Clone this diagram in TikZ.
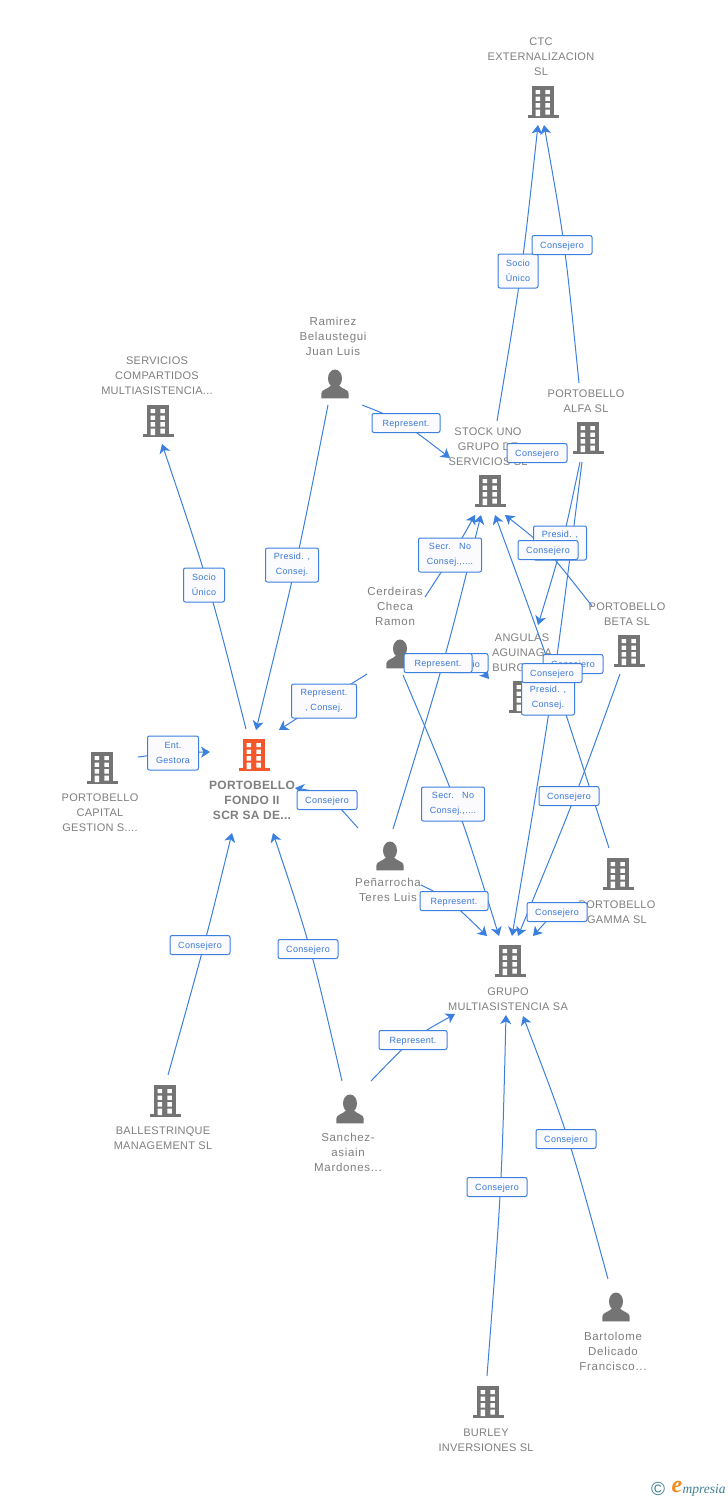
\documentclass[tikz,border=0pt]{standalone}
\usepackage{fontspec}
\usetikzlibrary{calc,arrows.meta}
\setmainfont{Liberation Sans}
\newfontfamily\entfont{Liberation Sans}[LetterSpace=2.5]
\newfontfamily\persfont{Liberation Sans}[LetterSpace=6]
\newfontfamily\boxfont{Liberation Sans}[LetterSpace=3.5]
\newfontfamily\logofont{Liberation Serif}
\definecolor{blueline}{HTML}{3C80DF}
\definecolor{bluetext}{HTML}{3A78D8}
\definecolor{iconG}{HTML}{747474}
\definecolor{textG}{HTML}{7F7F7F}
\definecolor{iconR}{HTML}{F4572B}
\definecolor{logoT}{HTML}{3E8095}
\definecolor{logoO}{HTML}{F28A1E}
\definecolor{boxF}{HTML}{FBFBFD}
\pgfdeclarelayer{lab}\pgfdeclarelayer{edg}
\pgfsetlayers{lab,edg,main}
\tikzset{
 x=1pt,y=-1pt,
 entlabel/.style={inner sep=0pt,align=center,text=textG,font={\entfont\fontsize{11}{15}\selectfont}},
 perslabel/.style={inner sep=0pt,align=center,text=textG,font={\persfont\fontsize{11.5}{15}\selectfont}},
 mainlabel/.style={inner sep=0pt,align=center,text=textG,font={\entfont\bfseries\fontsize{12}{15}\selectfont}},
 lbox/.style={draw=blueline,line width=1pt,fill=boxF,rounded corners=2pt,inner sep=0pt,align=center,text=bluetext,
   font={\boxfont\fontsize{9}{15}\selectfont},minimum width=#1,
   execute at begin node={\rule{0pt}{8.6pt}}},
 lbox/.default=60pt,
 oneline/.style={minimum height=19pt},
 twoline/.style={minimum height=34pt},
 conn/.style={draw=blueline,line width=1pt,-{Stealth[length=9pt,width=11pt,inset=2.5pt]}},
 pics/bldg/.style={code={
  \fill[#1] (-11,-16) rectangle (11,14);
  \fill[#1] (-15.5,13.2) rectangle (15.5,16);
  \fill[white] (-7.3,-12) rectangle (-3,-8) (2.3,-12) rectangle (6.8,-8)
    (-7.3,-5.5) rectangle (-3,-1.2) (2.3,-5.5) rectangle (6.8,-1.2)
    (-7.3,1.2) rectangle (-3,5.5) (2.3,1.2) rectangle (6.8,5.5)
    (-7.3,7.5) rectangle (-3,14) (2.3,7.5) rectangle (6.8,12.5);
 }},
 pics/pers/.style={code={
  \fill[#1] (0,-5.5) ellipse [x radius=7,y radius=9];
  \fill[#1] (-13.7,14.3) -- (-13.7,9.5) .. controls (-13.7,5.5) and (-7,5) .. (-4,1.5) -- (4,1.5)
     .. controls (7,5) and (13.7,5.5) .. (13.7,9.5) -- (13.7,14.3) -- cycle;
 }}
}
\newcommand{\cnx}[5]{%
 \coordinate (#1-s) at (#2);
 \coordinate (#1-t) at (#4);
 \coordinate (#1-m) at ($(#3)+(#5)$);
 \begin{pgfonlayer}{edg}
 \draw[conn] (#1-s) .. controls ($1.3333*(#1-m)-0.16667*(#1-s)-0.16667*(#1-t)$) .. (#1-t);
 \end{pgfonlayer}}
\begin{document}
\begin{tikzpicture}
\useasboundingbox (0,0) rectangle (728,1500);
\begin{pgfonlayer}{lab}
\fill[white] (0,0) rectangle (728,1500);
\node[entlabel] (lctc) at (541,57) {CTC\\EXTERNALIZACION\\SL};
\node[entlabel] (lserv) at (157,376) {SERVICIOS\\COMPARTIDOS\\MULTIASISTENCIA...};
\node[perslabel] (lram) at (333,336) {Ramirez\\Belaustegui\\Juan Luis};
\node[entlabel] (lalfa) at (586,401) {PORTOBELLO\\ALFA SL};
\node[entlabel] (lstock) at (488,447) {STOCK UNO\\GRUPO DE\\SERVICIOS SL};
\node[entlabel] (lbeta) at (627,614) {PORTOBELLO\\BETA SL};
\node[entlabel] (lang) at (522,653) {ANGULAS\\AGUINAGA\\BURGOS...};
\node[perslabel] (lcer) at (395,606) {Cerdeiras\\Checa\\Ramon};
\node[mainlabel] (lfon) at (252,800) {PORTOBELLO\\FONDO II\\SCR SA DE...};
\node[entlabel] (lcap) at (100,813) {PORTOBELLO\\CAPITAL\\GESTION S....};
\node[perslabel] (lpen) at (388,890) {Peñarrocha\\Teres Luis};
\node[entlabel] (lgam) at (617,912) {PORTOBELLO\\GAMMA SL};
\node[entlabel] (lgru) at (508,999) {GRUPO\\MULTIASISTENCIA SA};
\node[entlabel] (lbal) at (163,1138) {BALLESTRINQUE\\MANAGEMENT SL};
\node[perslabel] (lsan) at (348,1152) {Sanchez-\\asiain\\Mardones...};
\node[entlabel] (lbur) at (486,1440) {BURLEY\\INVERSIONES SL};
\node[perslabel] (lbar) at (613,1351) {Bartolome\\Delicado\\Francisco...};
\end{pgfonlayer}
% icons
\pic at (543,102) {bldg=iconG};
\pic at (158,421) {bldg=iconG};
\pic at (335,384) {pers=iconG};
\pic at (588,438) {bldg=iconG};
\pic at (490,491) {bldg=iconG};
\pic at (629,651) {bldg=iconG};
\pic at (524,697) {bldg=iconG};
\pic at (400,654) {pers=iconG};
\pic at (254,755) {bldg=iconR};
\pic at (102,768) {bldg=iconG};
\pic at (390,856) {pers=iconG};
\pic at (618,874) {bldg=iconG};
\pic at (510,961) {bldg=iconG};
\pic at (165,1101) {bldg=iconG};
\pic at (350,1109) {pers=iconG};
\pic at (488,1402) {bldg=iconG};
\pic at (616,1307) {pers=iconG};
% labels on connectors
\node[lbox=40pt,twoline] (b1) at (518,271) {Socio\\Único};
\node[lbox,oneline] (b2) at (562,245) {Consejero};
\node[lbox=53pt,twoline] (b3) at (292,565) {Presid. ,\\Consej.};
\node[lbox=68pt,oneline] (b4) at (406,423) {Represent.};
\node[lbox=41pt,twoline] (b5) at (204,585) {Socio\\Único};
\node[lbox=65pt,twoline] (b6) at (324,701) {Represent.\\, Consej.};
\node[lbox=51pt,twoline] (b7) at (173,753) {Ent.\\Gestora};
\node[lbox,oneline] (b8) at (327,800) {Consejero};
\node[lbox,oneline] (b9) at (200,945) {Consejero};
\node[lbox,oneline] (b10) at (308,949) {Consejero};
\node[lbox=68pt,oneline] (b11) at (413,1040) {Represent.};
\node[lbox,oneline] (b12) at (497,1187) {Consejero};
\node[lbox,oneline] (b13) at (566,1139) {Consejero};
\node[lbox=68pt,oneline] (b14) at (454,901) {Represent.};
\node[lbox=63pt,twoline] (b15) at (453,804) {Secr.\ \ \ No\\Consej.,....};
\node[lbox=53pt,twoline] (b22) at (560,543) {Presid. ,\\Consej.};
\node[lbox,oneline] (b19) at (548,550) {Consejero};
\node[lbox=63pt,twoline] (b20) at (450,555) {Secr.\ \ \ No\\Consej.,....};
\node[lbox,oneline] (b23) at (537,453) {Consejero};
\node[lbox,oneline] (b17) at (569,796) {Consejero};
\node[lbox,oneline] (b18) at (557,912) {Consejero};
\node[lbox=40pt,oneline] (b24) at (468,663) {Socio};
\node[lbox=68pt,oneline] (b21) at (438,663) {Represent.};
\node[lbox,oneline] (b25) at (573,664) {Consejero};
\node[lbox=53pt,twoline] (b16) at (548,698) {Presid. ,\\Consej.};
\node[lbox,oneline] (b26) at (552,673) {Consejero};
% connectors
\cnx{e1}{497,421}{b1}{538,125}{3,0}
\cnx{e2}{579,383}{b2}{544,125}{2,0}
\cnx{e3}{328,405}{b3}{256,730}{3.5,0}
\cnx{e4}{362,405}{b4}{450,458}{-4,0}
\cnx{e5}{246,729}{b5}{162,444}{4,0}
\cnx{e6}{367,674}{b6}{279,730}{0,0}
\cnx{e7}{138,757}{b7}{210,752}{0,0}
\cnx{e8}{358,828}{b8}{295,788}{0,-3}
\cnx{e9}{168,1075}{b9}{232,833}{4,0}
\cnx{e10}{342,1081}{b10}{273,833}{2,0}
\cnx{e11}{371,1081}{b11}{455,1014}{0,0}
\cnx{e12}{487,1376}{b12}{506,1015}{3.5,0}
\cnx{e13}{608,1279}{b13}{523,1016}{2,0}
\cnx{e14}{421,885}{b14}{487,936}{-5,0}
\cnx{e15}{403,675}{b15}{499,936}{3,0}
\cnx{e16}{582,462}{b16}{512,936}{3,0}
\cnx{e17}{620,674}{b17}{518,936}{6,0}
\cnx{e18}{580,905}{b18}{533,936}{0,0}
\cnx{e19}{592,606}{b19}{505,515}{-2,0}
\cnx{e20}{425,597}{b20}{475,515}{2,0}
\cnx{e21}{393,829}{b21}{481,515}{5,0}
\cnx{e22}{580,462}{b22}{538,625}{2,0}
\cnx{e23}{566,448}{b23}{522,460}{0,0}
\cnx{e24}{412,662}{b24}{489,679}{0,0}
\cnx{e25}{602,660}{b25}{535,672}{0,0}
\cnx{e26}{609,848}{b26}{495,515}{0,0}
% logo
\node[inner sep=0pt,text=logoT,font={\fontsize{19}{19}\selectfont}] (lc) at (658,1489) {©};
\node[inner sep=0pt,text=logoO,font={\logofont\itshape\bfseries\fontsize{24}{24}\selectfont}] (le) at (677,1487) {e};
\node[inner sep=0pt,text=logoT,font={\logofont\itshape\fontsize{13.5}{13.5}\selectfont}] (lm) at (704,1490) {mpresia};
\end{tikzpicture}
\end{document}
